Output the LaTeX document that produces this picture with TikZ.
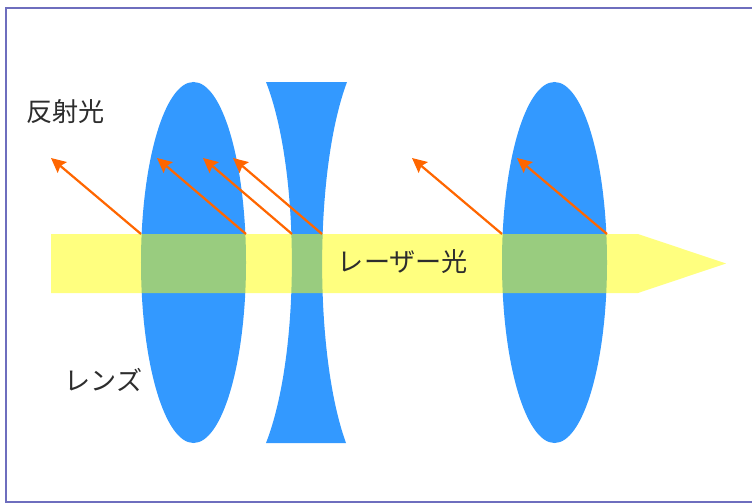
\documentclass[tikz,border=0pt]{standalone}
\usepackage{xcolor}
\usepackage{fontspec}
\setmainfont{Noto Sans CJK JP}
\usetikzlibrary{arrows.meta,shapes.geometric}
\definecolor{lblue}{RGB}{51,153,255}
\definecolor{lyellow}{RGB}{255,255,0}
\definecolor{lorange}{RGB}{255,102,0}
\definecolor{lframe}{RGB}{110,110,190}
\definecolor{ltext}{RGB}{45,45,45}
\tikzset{
  lens/.style  ={ellipse, fill=lblue, inner sep=0pt, minimum width=3.15cm, minimum height=10.83cm},
  hollow/.style={fill=lblue},
  beam/.style  ={fill=lyellow, fill opacity=0.5},
  refl/.style  ={-{Stealth[length=12.5pt,width=12pt,inset=2pt]}, draw=lorange, line width=1.9pt},
  lbl/.style   ={font=\fontsize{22.3}{26}\selectfont, text=ltext, inner sep=0pt},
  edge/.style  ={draw=lframe, line width=2pt}
}
\begin{document}
\begin{tikzpicture}[x=0.03cm,y=-0.03cm]
\useasboundingbox (0,0) rectangle (752,503);
\draw[edge] (752,8) -- (6,8) -- (6,502) -- (752,502);

\node[lens] (la) at (193.5,262.5) {};
\node[lens] (lc) at (554.5,262.5) {};
\path[hollow] (266,82) -- (347,82) .. controls (314,170) and (314,355) .. (346,443)
  -- (266,443) .. controls (300.5,355) and (300.5,170) .. (266,82) -- cycle;
\path[beam] (51,234) -- (638,234) -- (726,263.5) -- (638,293) -- (51,293) -- cycle;

% start and end of the reflected rays
\foreach \n/\sx/\ex in {ra/141/51,rb/246/157,rc/292/203,rd/322/233,re/502/412,rf/607/517}{
  \coordinate (\n s) at (\sx,234);
  \coordinate (\n e) at (\ex,158);
  \draw[refl] (\n s) -- (\n e);
}

\node[lbl] (tr) at (65.5,112) {反射光};
\node[lbl] (tb) at (403,262) {レーザー光};
\node[lbl] (tl) at (103.5,380) {レンズ};
\end{tikzpicture}
\end{document}
